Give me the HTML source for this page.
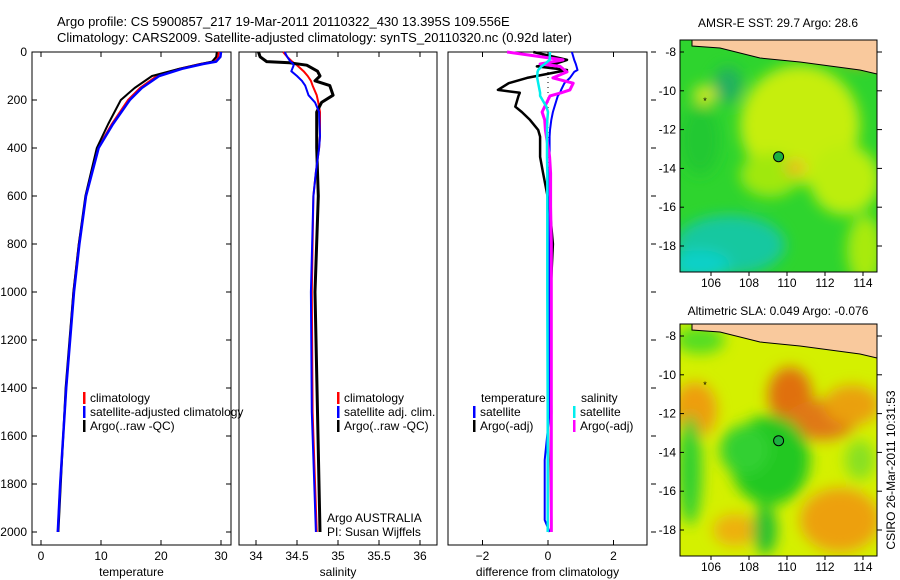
<!DOCTYPE html>
<html><head><meta charset="utf-8">
<style>
html,body{margin:0;padding:0;background:#fff;}
svg{display:block;font-family:"Liberation Sans",sans-serif;}
</style></head>
<body>
<svg id="fig" width="900" height="580" viewBox="0 0 900 580">
<defs>
<filter id="blur6" x="-50%" y="-50%" width="200%" height="200%"><feGaussianBlur stdDeviation="7"/></filter>
<clipPath id="clipM1"><rect x="680" y="40" width="197" height="232"/></clipPath>
<clipPath id="clipM2"><rect x="680" y="324" width="197" height="232"/></clipPath>
</defs>
<text x="57" y="26" font-size="13">Argo profile: CS 5900857_217 19-Mar-2011 20110322_430 13.395S 109.556E</text>
<text x="57" y="42" font-size="13">Climatology: CARS2009. Satellite-adjusted climatology: synTS_20110320.nc (0.92d later)</text>
<g id="plots"></g>

<!-- SST map -->
<g>
<text x="778" y="27" font-size="12" text-anchor="middle">AMSR-E SST: 29.7 Argo: 28.6</text>
<g clip-path="url(#clipM1)">
<rect x="680" y="40" width="197" height="232" fill="#2ed42e"/>
<g filter="url(#blur6)">
<ellipse cx="800" cy="125" rx="60" ry="60" fill="#c6ee10"/>
<ellipse cx="845" cy="180" rx="35" ry="35" fill="#bcee10"/>
<ellipse cx="865" cy="250" rx="18" ry="35" fill="#a8ea10"/>
<ellipse cx="770" cy="175" rx="30" ry="22" fill="#a0e810"/>
<ellipse cx="705" cy="95" rx="12" ry="10" fill="#d0e820"/>
<ellipse cx="728" cy="85" rx="14" ry="18" fill="#22b060"/>
<ellipse cx="700" cy="140" rx="20" ry="35" fill="#22c833"/>
<ellipse cx="730" cy="245" rx="55" ry="30" fill="#18c8a0"/>
<ellipse cx="700" cy="265" rx="30" ry="15" fill="#10d0c8"/>
<ellipse cx="795" cy="168" rx="10" ry="7" fill="#f0b020"/>
<ellipse cx="860" cy="58" rx="18" ry="8" fill="#f0a010"/>
</g>
</g>
<path d="M692,40 L692,46 L720,48 L760,58 L800,62 L830,66 L860,70 L877,74 L877,40 Z" fill="#f9c99d" stroke="#000" stroke-width="1"/>
<rect x="680" y="40" width="197" height="232" fill="none" stroke="#000"/>
<circle cx="778.6" cy="156.7" r="5" fill="#1cb040" stroke="#000"/>
<text x="705" y="104" font-size="9" text-anchor="middle">*</text>
<g id="m1axes"></g>
</g>

<!-- SLA map -->
<g>
<text x="778" y="315" font-size="12" text-anchor="middle">Altimetric SLA: 0.049 Argo: -0.076</text>
<g clip-path="url(#clipM2)">
<rect x="680" y="324" width="197" height="232" fill="#d4f000"/>
<g filter="url(#blur6)">
<ellipse cx="790" cy="395" rx="22" ry="28" fill="#e07010"/>
<ellipse cx="822" cy="420" rx="35" ry="20" fill="#e07818"/>
<ellipse cx="852" cy="405" rx="28" ry="20" fill="#eaa010"/>
<ellipse cx="695" cy="410" rx="22" ry="28" fill="#ee9e10"/>
<ellipse cx="840" cy="520" rx="40" ry="32" fill="#eda010"/>
<ellipse cx="735" cy="530" rx="22" ry="16" fill="#eeb010"/>
<ellipse cx="770" cy="460" rx="40" ry="45" fill="#22c822"/>
<ellipse cx="745" cy="450" rx="25" ry="25" fill="#33d033"/>
<ellipse cx="690" cy="470" rx="12" ry="55" fill="#33d033"/>
<ellipse cx="765" cy="530" rx="12" ry="25" fill="#22c030"/>
<ellipse cx="860" cy="460" rx="15" ry="20" fill="#88e020"/>
<ellipse cx="700" cy="340" rx="25" ry="14" fill="#55dd22"/>
</g>
</g>
<path d="M692,324 L692,330 L720,332 L760,342 L800,346 L830,350 L860,354 L877,358 L877,324 Z" fill="#f9c99d" stroke="#000" stroke-width="1"/>
<rect x="680" y="324" width="197" height="232" fill="none" stroke="#000"/>
<circle cx="778.6" cy="440.7" r="5" fill="#1cb040" stroke="#000"/>
<text x="705" y="388" font-size="9" text-anchor="middle">*</text>
<g id="m2axes"></g>
</g>
<text transform="translate(895,470) rotate(-90)" font-size="12" text-anchor="middle">CSIRO 26-Mar-2011 10:31:53</text>
</svg>
<script>
// ---- data ----
const depthT = [0,20,40,50,70,100,150,200,300,400,600,800,1000,1400,1600,1800,2000];
const tempClim = [29.6,29.5,28.7,26.5,23,19.3,16.5,14.5,11.8,9.5,7.5,6.3,5.4,4.2,3.7,3.2,2.8];
const tempSat = [30,29.9,29.2,27,23.5,19.7,16.8,14.8,12,9.6,7.5,6.4,5.5,4.2,3.7,3.2,2.8];
const tempArgo = [29.3,29.2,28.5,26.6,23,18.5,15.6,13.3,11.2,9.3,7.4,6.3,5.4,4.1,3.7,3.3,2.9];
const depthS = [0,20,40,45,55,80,100,120,140,180,210,250,350,400,500,600,1000,1500,2000];
const salClim = [34.33,34.38,34.44,34.46,34.5,34.58,34.63,34.67,34.69,34.74,34.76,34.78,34.78,34.77,34.73,34.70,34.68,34.69,34.74];
const salSat = [34.35,34.38,34.42,34.44,34.46,34.43,34.5,34.56,34.6,34.64,34.72,34.77,34.78,34.77,34.73,34.70,34.67,34.68,34.73];
const salArgo = [34.03,34.05,34.13,34.41,34.62,34.75,34.78,34.72,34.9,34.94,34.8,34.74,34.74,34.74,34.75,34.76,34.72,34.75,34.78];
const depthD = [0,33,50,60,75,83,108,130,158,170,183,228,250,283,325,353,437,505,645,800,1000,1500,1700,1950,2000];
const dTempSat = [0.73,0.8,0.85,0.87,0.9,0.8,0.67,0.5,0.4,0.37,0.3,0.2,0.15,0.1,0.06,0.05,0.05,0.05,0.05,0.05,0.05,0.05,-0.1,-0.1,0.05];
const dTempArgo = [-0.45,0.58,0.2,-0.34,0.58,0.3,-0.64,-1.2,-1.53,-0.86,-0.9,-1.0,-0.8,-0.55,-0.3,-0.24,-0.24,-0.15,0.05,0.15,0.08,0.1,0.08,0.1,0.1];
const dSalSat = [0.06,0.05,-0.1,-0.2,-0.3,-0.32,-0.33,-0.3,-0.26,-0.24,-0.24,-0.05,0,-0.02,-0.03,-0.03,-0.03,-0.02,-0.02,-0.02,-0.02,-0.01,-0.01,-0.01,-0.01];
const dSalArgo = [-1.25,0.46,-0.24,0.37,0.5,0.58,0.15,0.77,0.67,0.4,0.06,-0.1,-0.18,-0.1,-0.08,-0.05,0.05,0.08,0.08,0.1,0.1,0.1,0.1,0.1,0.1];
const yTicks = [0,200,400,600,800,1000,1200,1400,1600,1800,2000];
const tTicks = [0,10,20,30];
const sTicks = [34,34.5,35,35.5,36];
const dTicks = [-2,0,2];
const latTicks = [-8,-10,-12,-14,-16,-18];
const lonTicks = [106,108,110,112,114];

const NS='http://www.w3.org/2000/svg';
const g=document.getElementById('plots');
function el(tag,attrs,parent,txt){const e=document.createElementNS(NS,tag);for(const k in attrs)e.setAttribute(k,attrs[k]);if(txt!==undefined)e.textContent=txt;(parent||g).appendChild(e);return e;}
const yAt=d=>52+d*0.24;
const panels=[
 {x0:32,x1:231,vx:41,scale:6,ticks:tTicks,label:'temperature',name:'temperature'},
 {x0:239,x1:437,vx:256,scale:82,ticks:sTicks,label:'salinity',name:'salinity',off:34},
 {x0:448,x1:647,vx:548,scale:32.75,ticks:dTicks,label:'difference from climatology',name:'difference'}
];
panels.forEach((p,i)=>{
 p.fx=v=>p.vx+(v-(p.off||0))*p.scale;
 const r=el('rect',{x:p.x0,y:52,width:p.x1-p.x0,height:493,fill:'none',stroke:'#000'});
 
 
 p.ticks.forEach(t=>{const x=p.fx(t);
  el('line',{x1:x,x2:x,y1:52,y2:57,stroke:'#000'});el('line',{x1:x,x2:x,y1:545,y2:540,stroke:'#000'});
  const tl=el('text',{x:x,y:560,'font-size':12,'text-anchor':'middle'},g,String(t).replace('-','\u2212'));
  
  
 });
 const xl=el('text',{x:(p.x0+p.x1)/2,y:576,'font-size':12,'text-anchor':'middle'},g,p.label);
 
 
 yTicks.forEach(t=>{const y=yAt(t);
  if(i===0){el('line',{x1:p.x0,x2:p.x0+5,y1:y,y2:y,stroke:'#000'});el('line',{x1:p.x1,x2:p.x1-5,y1:y,y2:y,stroke:'#000'});
   const yl=el('text',{x:27,y:y+4,'font-size':12,'text-anchor':'end'},g,String(t));
   
   }
  if(i===2){el('line',{x1:p.x1+4,x2:p.x1+9,y1:y,y2:y,stroke:'#000'});}
 });
});
function line(p,xs,ds,color,w,name,dash){
 const pts=xs.map((v,k)=>p.fx(v).toFixed(1)+','+yAt(ds[k]).toFixed(1)).join(' ');
 const l=el('polyline',{points:pts,fill:'none',stroke:color,'stroke-width':w,'stroke-linejoin':'round'});
 if(dash)l.setAttribute('stroke-dasharray',dash);
 
 
}
el('line',{x1:548,x2:548,y1:52,y2:250,stroke:'#000','stroke-dasharray':'1,4'});
line(panels[0],tempClim,depthT,'#f00',2,'temp-climatology-line');
line(panels[0],tempArgo,depthT,'#000',2,'temp-argo-line');
line(panels[0],tempSat,depthT,'#00f',2.5,'temp-satellite-line');
line(panels[1],salClim,depthS,'#f00',2,'sal-climatology-line');
line(panels[1],salArgo,depthS,'#000',3,'sal-argo-line');
line(panels[1],salSat,depthS,'#00f',2,'sal-satellite-line');
line(panels[2],dTempArgo,depthD,'#000',2.5,'diff-temp-argo-line');
line(panels[2],dTempSat,depthD,'#00f',2,'diff-temp-satellite-line');
line(panels[2],dSalArgo,depthD,'#f0f',3,'diff-sal-argo-line');
line(panels[2],dSalSat,depthD,'#0ee',2.5,'diff-sal-satellite-line');

function legend(x,y,color,label,name){
 if(color){el('rect',{x:x,y:y-10,width:2.5,height:12,fill:color});}
 const t=el('text',{x:x+7,y:y,'font-size':12},g,label);
 
 
}
legend(83,402,'#f00','climatology','temp-legend-climatology');
legend(83,416,'#00f','satellite-adjusted climatology','temp-legend-satellite');
legend(83,430,'#000','Argo(..raw -QC)','temp-legend-argo');
legend(337,402,'#f00','climatology','sal-legend-climatology');
legend(337,416,'#00f','satellite adj. clim.','sal-legend-satellite');
legend(337,430,'#000','Argo(..raw -QC)','sal-legend-argo');
legend(320,522,null,'Argo AUSTRALIA','argo-australia-label');
legend(320,536,null,'PI: Susan Wijffels','pi-label');
legend(474,402,null,'temperature','diff-legend-temp-header');
legend(473,416,'#00f','satellite','diff-legend-temp-satellite');
legend(473,430,'#000','Argo(-adj)','diff-legend-temp-argo');
legend(574,402,null,'salinity','diff-legend-sal-header');
legend(573,416,'#0ee','satellite','diff-legend-sal-satellite');
legend(573,430,'#f0f','Argo(-adj)','diff-legend-sal-argo');

function mapAxes(id,top,bottom,lat8){
 const ga=document.getElementById(id);
 latTicks.forEach(l=>{const y=lat8+(-8-l)*19.4;
  el('line',{x1:680,x2:684,y1:y,y2:y,stroke:'#000'},ga);el('line',{x1:877,x2:882,y1:y,y2:y,stroke:'#000'},ga);
  const t=el('text',{x:676,y:y+4,'font-size':12,'text-anchor':'end'},ga,String(l));
  
  });
 lonTicks.forEach(l=>{const x=711+(l-106)*19;
  el('line',{x1:x,x2:x,y1:bottom,y2:bottom+4,stroke:'#000'},ga);
  const t=el('text',{x:x,y:bottom+15,'font-size':12,'text-anchor':'middle'},ga,String(l));
  
  });
}
mapAxes('m1axes',40,272,52);
mapAxes('m2axes',324,556,336);
</script>
</body></html>
